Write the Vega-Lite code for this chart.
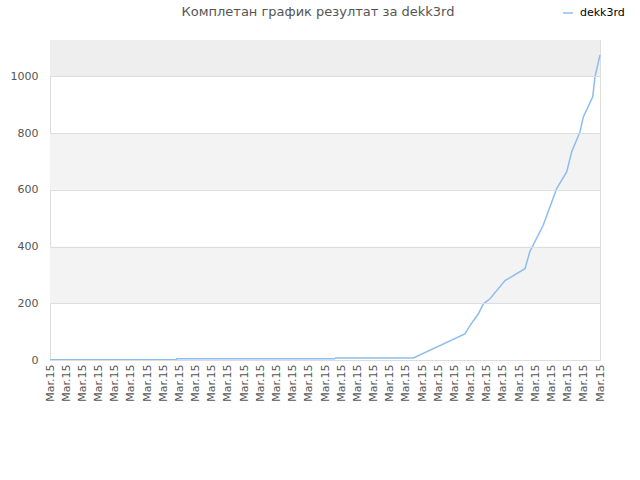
{
  "$schema": "https://vega.github.io/schema/vega-lite/v6.json",
  "autosize": "none",
  "width": 550,
  "height": 320,
  "padding": {"left": 50, "top": 40, "right": 40, "bottom": 120},
  "background": "white",
  "config": {
    "font": "DejaVu Sans",
    "view": {"stroke": "#dddddd", "strokeWidth": 1}
  },
  "title": {
    "text": "Комплетан график резултат за dekk3rd",
    "anchor": "middle",
    "fontSize": 13,
    "fontWeight": "normal",
    "color": "#555555",
    "offset": -12,
    "dx": -7
  },
  "datasets": {
    "grey": [{"lo": 200, "hi": 400}, {"lo": 600, "hi": 800}],
    "top": [{"lo": 1000, "hi": 1128}],
    "scores": [
      {"t": 0, "score": 1, "player": "dekk3rd"},
      {"t": 7.8, "score": 1, "player": "dekk3rd"},
      {"t": 7.85, "score": 4, "player": "dekk3rd"},
      {"t": 17.6, "score": 4, "player": "dekk3rd"},
      {"t": 17.65, "score": 7, "player": "dekk3rd"},
      {"t": 22.46, "score": 7, "player": "dekk3rd"},
      {"t": 25.65, "score": 92, "player": "dekk3rd"},
      {"t": 25.96, "score": 121, "player": "dekk3rd"},
      {"t": 26.48, "score": 163, "player": "dekk3rd"},
      {"t": 26.79, "score": 198, "player": "dekk3rd"},
      {"t": 27.2, "score": 216, "player": "dekk3rd"},
      {"t": 28.13, "score": 280, "player": "dekk3rd"},
      {"t": 29.36, "score": 322, "player": "dekk3rd"},
      {"t": 29.67, "score": 383, "player": "dekk3rd"},
      {"t": 30.49, "score": 475, "player": "dekk3rd"},
      {"t": 31.32, "score": 604, "player": "dekk3rd"},
      {"t": 31.94, "score": 663, "player": "dekk3rd"},
      {"t": 32.25, "score": 734, "player": "dekk3rd"},
      {"t": 32.76, "score": 804, "player": "dekk3rd"},
      {"t": 32.97, "score": 857, "player": "dekk3rd"},
      {"t": 33.55, "score": 928, "player": "dekk3rd"},
      {"t": 33.69, "score": 999, "player": "dekk3rd"},
      {"t": 34, "score": 1075, "player": "dekk3rd"}
    ]
  },
  "encoding": {
    "y": {
      "type": "quantitative",
      "title": null,
      "scale": {"domain": [0, 1128], "nice": false},
      "axis": {
        "title": null,
        "values": [0, 200, 400, 600, 800, 1000],
        "format": "d",
        "labelFontSize": 11,
        "labelColor": "#555555",
        "labelPadding": 12,
        "ticks": false,
        "domain": false,
        "grid": true,
        "gridColor": "#dddddd",
        "zindex": 1
      }
    }
  },
  "layer": [
    {
      "data": {"name": "grey"},
      "mark": {"type": "rect", "color": "#f3f3f3"},
      "encoding": {
        "y": {"field": "lo", "type": "quantitative", "title": null},
        "y2": {"field": "hi"}
      }
    },
    {
      "data": {"name": "top"},
      "mark": {"type": "rect", "color": "#eeeeee"},
      "encoding": {
        "y": {"field": "lo", "type": "quantitative", "title": null},
        "y2": {"field": "hi"}
      }
    },
    {
      "data": {"name": "scores"},
      "mark": {"type": "line", "strokeWidth": 1.5},
      "encoding": {
        "x": {
          "field": "t",
          "type": "quantitative",
          "scale": {"domain": [0, 34], "nice": false, "zero": false},
          "axis": {
            "title": null,
            "values": [0,1,2,3,4,5,6,7,8,9,10,11,12,13,14,15,16,17,18,19,20,21,22,23,24,25,26,27,28,29,30,31,32,33,34],
            "labelExpr": "'Mar.15'",
            "labelAngle": -90,
            "labelFontSize": 11,
            "labelColor": "#555555",
            "labelPadding": 4,
            "labelOverlap": false,
            "labelFlush": false,
            "ticks": false,
            "domain": false,
            "grid": false
          }
        },
        "y": {"field": "score", "type": "quantitative", "title": null},
        "color": {
          "field": "player",
          "type": "nominal",
          "scale": {"range": ["#8dbdf0"]},
          "legend": {
            "title": null,
            "orient": "none",
            "legendX": 512,
            "legendY": -33,
            "symbolType": "stroke",
            "symbolSize": 100,
            "symbolStrokeWidth": 1.5,
            "labelOffset": 6,
            "labelFontSize": 11,
            "labelColor": "#000000"
          }
        }
      }
    }
  ]
}
